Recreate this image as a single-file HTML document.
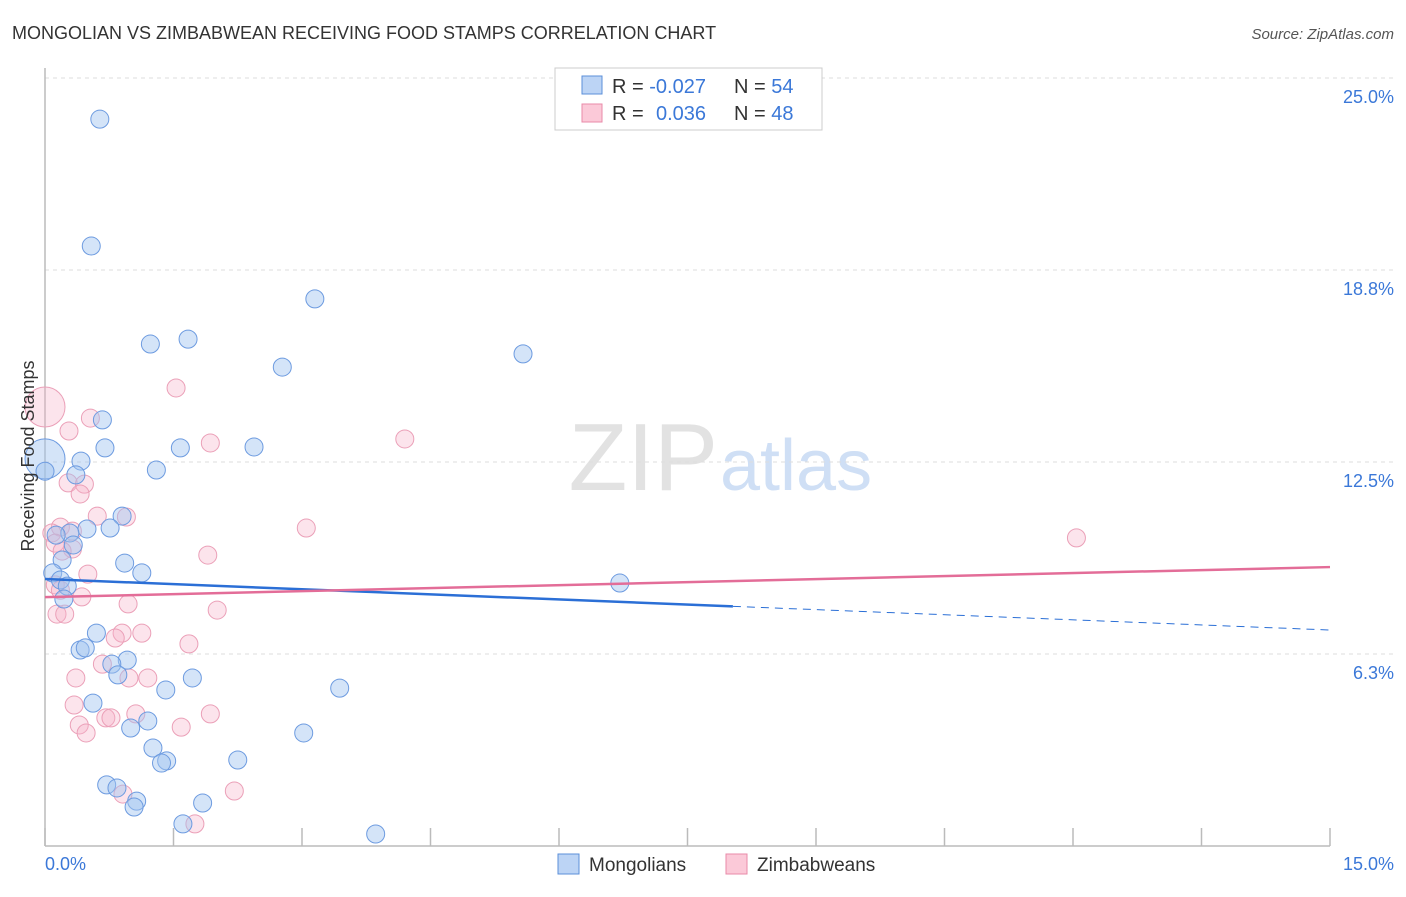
<!DOCTYPE html>
<html><head><meta charset="utf-8"><style>
body{margin:0;background:#fff;font-family:"Liberation Sans",sans-serif}
svg text{font-family:"Liberation Sans",sans-serif}
</style></head><body>
<svg id="c" width="1406" height="892">
<text x="12" y="39" font-size="18" fill="#333">MONGOLIAN VS ZIMBABWEAN RECEIVING FOOD STAMPS CORRELATION CHART</text>
<text x="1394" y="39" font-size="15" fill="#555" font-style="italic" text-anchor="end">Source: ZipAtlas.com</text>
<text x="718" y="490" font-size="96" fill="#e2e2e2" font-family="Liberation Serif" text-anchor="end">ZIP</text>
<text x="720" y="490" font-size="72" fill="#cfdff5">atlas</text>
<g id="grid"></g><g id="marks"></g>
<text transform="translate(34,456) rotate(-90)" font-size="18" fill="#333" text-anchor="middle">Receiving Food Stamps</text>
<text x="45" y="870" font-size="18" fill="#3b78d8">0.0%</text>
<text x="1394" y="870" font-size="18" fill="#3b78d8" text-anchor="end">15.0%</text>
<g>
<rect x="555" y="68" width="267" height="62" fill="#fff" stroke="#ccc"/>
<rect x="582" y="76" width="20" height="18" fill="#bcd4f5" stroke="#5b8fd9"/>
<rect x="582" y="104" width="20" height="18" fill="#fbc9d8" stroke="#e88aa8"/>
<text x="612" y="93" font-size="20" fill="#333">R = <tspan fill="#3b78d8">-0.027</tspan><tspan x="734">N = </tspan><tspan fill="#3b78d8">54</tspan></text>
<text x="612" y="120" font-size="20" fill="#333">R = <tspan fill="#3b78d8" x="656">0.036</tspan><tspan x="734">N = </tspan><tspan fill="#3b78d8">48</tspan></text>
</g>
<g>
<rect x="558" y="854" width="21" height="20" fill="#bcd4f5" stroke="#5b8fd9"/>
<text x="589" y="871" font-size="19" fill="#333">Mongolians</text>
<rect x="726" y="854" width="21" height="20" fill="#fbc9d8" stroke="#e88aa8"/>
<text x="757" y="871" font-size="19" fill="#333">Zimbabweans</text>
</g>
</svg>
<script>
const yTicks=[25,18.75,12.5,6.25];
const yTickLabels=["25.0%","18.8%","12.5%","6.3%"];
const xTicks=[0,1.5,3,4.5,6,7.5,9,10.5,12,13.5,15];
const blueX=[0.64,0.54,3.15,1.23,1.67,2.77,5.58,0.67,0.70,1.58,2.44,0.42,1.30,0.36,0,0,0.90,0.76,0.49,0.29,0.13,0.33,0.20,0.93,1.13,0.09,0.18,0.26,0.22,6.71,0.60,0.41,0.47,0.96,0.78,0.85,1.72,1.41,3.44,0.56,1.20,1.00,3.02,1.26,1.42,1.36,2.25,0.72,0.84,1.07,1.04,1.84,1.61,3.86];
const blueY=[23.66,19.53,17.81,16.34,16.50,15.59,16.02,13.87,12.96,12.96,12.99,12.53,12.24,12.08,12.6,12.2,10.74,10.35,10.32,10.19,10.12,9.8,9.31,9.21,8.89,8.89,8.66,8.46,8.04,8.56,6.93,6.38,6.45,6.05,5.92,5.57,5.47,5.08,5.14,4.65,4.07,3.84,3.68,3.19,2.77,2.70,2.80,1.99,1.89,1.46,1.27,1.40,0.72,0.39];
const blueBig=[14];
const pinkX=[0,1.53,0.53,0.28,1.93,4.20,0.27,0.46,0.41,0.61,0.95,3.05,0.18,0.32,0.08,12.04,0.12,0.32,0.20,1.90,0.50,0.12,0.18,0.43,0.97,2.01,0.14,0.23,0.90,1.13,0.82,1.68,0.67,0.98,1.20,0.36,0.34,1.93,1.06,0.71,0.77,0.40,1.59,0.48,2.21,0.91,1.75];
const pinkY=[14.29,14.91,13.93,13.51,13.12,13.25,11.82,11.78,11.46,10.74,10.71,10.35,10.38,10.25,10.19,10.03,9.86,9.67,9.60,9.47,8.85,8.5,8.33,8.11,7.88,7.68,7.55,7.55,6.93,6.93,6.77,6.58,5.92,5.47,5.47,5.47,4.59,4.30,4.30,4.17,4.17,3.94,3.87,3.68,1.79,1.69,0.72];
const pinkBig=[0];
const blueTrend=[8.69,7.03];
const blueSolidEnd=8.03;
const pinkTrend=[8.1,9.08];
const X0=45,X1=1330,Y0=846,PPY=30.72;
const sx=v=>X0+(X1-X0)*v/15, sy=v=>Y0-v*PPY;
const NS="http://www.w3.org/2000/svg";
const grid=document.getElementById('grid'),marks=document.getElementById('marks');
function mk(tag,attrs,parent){const e=document.createElementNS(NS,tag);for(const k in attrs)e.setAttribute(k,attrs[k]);parent.appendChild(e);return e;}
yTicks.forEach((t,i)=>{
 const l=mk('line',{x1:X0,x2:1395,y1:sy(t),y2:sy(t),stroke:'#ddd','stroke-dasharray':'4,4'},grid);
 
 
 const tx=mk('text',{x:1394,y:sy(t)+25,'font-size':18,fill:'#3b78d8','text-anchor':'end'},grid);
 tx.textContent=yTickLabels[i];
 
 
});
const ax=mk('line',{x1:X0,x2:X0,y1:68,y2:Y0,stroke:'#bbb','stroke-width':1.5},grid);


const bx=mk('line',{x1:X0,x2:X1,y1:Y0,y2:Y0,stroke:'#bbb','stroke-width':1.5},grid);


xTicks.forEach(t=>{
 const l=mk('line',{x1:sx(t),x2:sx(t),y1:828,y2:Y0,stroke:'#bbb','stroke-width':1.5},grid);
 
 
});
function pts(xs,ys,big,fill,stroke,name){
 xs.forEach((x,i)=>{
  const c=mk('circle',{cx:sx(x),cy:sy(ys[i]),r:big.includes(i)?20:9,fill:fill,stroke:stroke,'stroke-width':1},marks);
  
  
 });
}
pts(pinkX,pinkY,pinkBig,'rgba(246,178,200,0.35)','#eba0b8','zimbabwean-point');
pts(blueX,blueY,blueBig,'rgba(160,196,240,0.45)','#6d9be0','mongolian-point');
const bAt=x=>blueTrend[0]+(blueTrend[1]-blueTrend[0])*x/15;
const l1=mk('line',{x1:sx(0),y1:sy(bAt(0)),x2:sx(blueSolidEnd),y2:sy(bAt(blueSolidEnd)),stroke:'#2b6fd6','stroke-width':2.5},marks);


const l2=mk('line',{x1:sx(blueSolidEnd),y1:sy(bAt(blueSolidEnd)),x2:sx(15),y2:sy(bAt(15)),stroke:'#2b6fd6','stroke-width':1,'stroke-dasharray':'8,6'},marks);


const l3=mk('line',{x1:sx(0),y1:sy(pinkTrend[0]),x2:sx(15),y2:sy(pinkTrend[1]),stroke:'#e36d98','stroke-width':2.5},marks);


</script>
</body></html>
